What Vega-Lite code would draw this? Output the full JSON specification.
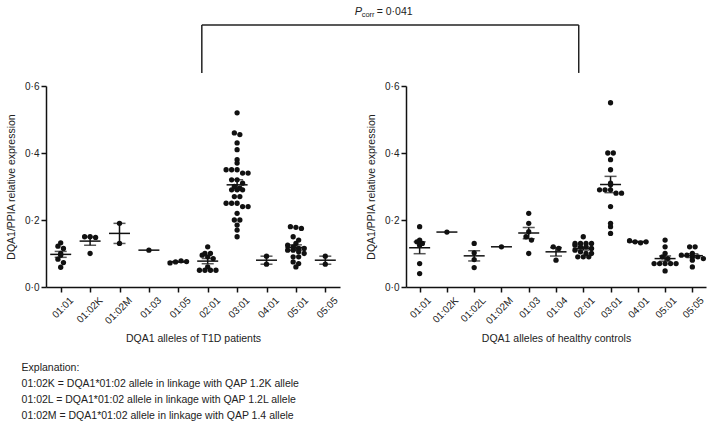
{
  "$schema": "https://vega.github.io/schema/vega-lite/v6.json",
  "background": "white",
  "padding": {"left": 6, "top": 5, "right": 0, "bottom": 0},
  "config": {
    "font": "Liberation Sans",
    "view": {"stroke": null},
    "axis": {
      "grid": false,
      "domainColor": "#111",
      "domainWidth": 1.5,
      "tickColor": "#111",
      "tickWidth": 1.5,
      "tickSize": 5,
      "labelFont": "Liberation Sans",
      "labelFontSize": 10,
      "labelColor": "#222",
      "titleFont": "Liberation Sans",
      "titleFontSize": 10.5,
      "titleFontWeight": "normal",
      "titleColor": "#222"
    }
  },
  "title": {
    "text": [
      "Explanation:",
      "01:02K = DQA1*01:02 allele in linkage with QAP 1.2K allele",
      "01:02L = DQA1*01:02 allele in linkage with QAP 1.2L allele",
      "01:02M = DQA1*01:02 allele in linkage with QAP 1.4 allele"
    ],
    "orient": "bottom",
    "anchor": "start",
    "font": "Liberation Sans",
    "fontSize": 10.5,
    "fontWeight": "normal",
    "color": "#222",
    "lineHeight": 16,
    "offset": 19,
    "dx": 15
  },
  "datasets": {
    "t1d": [
      {"allele": "01:01", "value": 0.132}, {"allele": "01:01", "value": 0.122}, {"allele": "01:01", "value": 0.115}, {"allele": "01:01", "value": 0.10},
      {"allele": "01:01", "value": 0.095}, {"allele": "01:01", "value": 0.083}, {"allele": "01:01", "value": 0.073}, {"allele": "01:01", "value": 0.059},
      {"allele": "01:02K", "value": 0.15}, {"allele": "01:02K", "value": 0.15}, {"allele": "01:02K", "value": 0.148}, {"allele": "01:02K", "value": 0.10},
      {"allele": "01:02M", "value": 0.19}, {"allele": "01:02M", "value": 0.13},
      {"allele": "01:03", "value": 0.11},
      {"allele": "01:05", "value": 0.072}, {"allele": "01:05", "value": 0.075}, {"allele": "01:05", "value": 0.078}, {"allele": "01:05", "value": 0.076},
      {"allele": "02:01", "value": 0.12}, {"allele": "02:01", "value": 0.10}, {"allele": "02:01", "value": 0.10}, {"allele": "02:01", "value": 0.095},
      {"allele": "02:01", "value": 0.09}, {"allele": "02:01", "value": 0.085}, {"allele": "02:01", "value": 0.06}, {"allele": "02:01", "value": 0.05},
      {"allele": "02:01", "value": 0.05}, {"allele": "02:01", "value": 0.05}, {"allele": "02:01", "value": 0.05},
      {"allele": "03:01", "value": 0.52}, {"allele": "03:01", "value": 0.46}, {"allele": "03:01", "value": 0.455}, {"allele": "03:01", "value": 0.43},
      {"allele": "03:01", "value": 0.41}, {"allele": "03:01", "value": 0.38}, {"allele": "03:01", "value": 0.37}, {"allele": "03:01", "value": 0.35},
      {"allele": "03:01", "value": 0.35}, {"allele": "03:01", "value": 0.35}, {"allele": "03:01", "value": 0.34}, {"allele": "03:01", "value": 0.34},
      {"allele": "03:01", "value": 0.32}, {"allele": "03:01", "value": 0.32}, {"allele": "03:01", "value": 0.31}, {"allele": "03:01", "value": 0.30},
      {"allele": "03:01", "value": 0.295}, {"allele": "03:01", "value": 0.29}, {"allele": "03:01", "value": 0.29}, {"allele": "03:01", "value": 0.29},
      {"allele": "03:01", "value": 0.27}, {"allele": "03:01", "value": 0.27}, {"allele": "03:01", "value": 0.25}, {"allele": "03:01", "value": 0.25},
      {"allele": "03:01", "value": 0.25}, {"allele": "03:01", "value": 0.24}, {"allele": "03:01", "value": 0.24}, {"allele": "03:01", "value": 0.22},
      {"allele": "03:01", "value": 0.20}, {"allele": "03:01", "value": 0.20}, {"allele": "03:01", "value": 0.185}, {"allele": "03:01", "value": 0.17},
      {"allele": "03:01", "value": 0.15},
      {"allele": "04:01", "value": 0.092}, {"allele": "04:01", "value": 0.068},
      {"allele": "05:01", "value": 0.18}, {"allele": "05:01", "value": 0.178}, {"allele": "05:01", "value": 0.175}, {"allele": "05:01", "value": 0.15},
      {"allele": "05:01", "value": 0.14}, {"allele": "05:01", "value": 0.13}, {"allele": "05:01", "value": 0.125}, {"allele": "05:01", "value": 0.12},
      {"allele": "05:01", "value": 0.115}, {"allele": "05:01", "value": 0.115}, {"allele": "05:01", "value": 0.11}, {"allele": "05:01", "value": 0.11},
      {"allele": "05:01", "value": 0.105}, {"allele": "05:01", "value": 0.10}, {"allele": "05:01", "value": 0.09}, {"allele": "05:01", "value": 0.09},
      {"allele": "05:01", "value": 0.075}, {"allele": "05:01", "value": 0.07}, {"allele": "05:01", "value": 0.06},
      {"allele": "05:05", "value": 0.092}, {"allele": "05:05", "value": 0.068}
    ],
    "hc": [
      {"allele": "01:01", "value": 0.18}, {"allele": "01:01", "value": 0.14}, {"allele": "01:01", "value": 0.135}, {"allele": "01:01", "value": 0.13},
      {"allele": "01:01", "value": 0.125}, {"allele": "01:01", "value": 0.07}, {"allele": "01:01", "value": 0.04},
      {"allele": "01:02K", "value": 0.164},
      {"allele": "01:02L", "value": 0.13}, {"allele": "01:02L", "value": 0.102}, {"allele": "01:02L", "value": 0.082}, {"allele": "01:02L", "value": 0.058},
      {"allele": "01:02M", "value": 0.12},
      {"allele": "01:03", "value": 0.22}, {"allele": "01:03", "value": 0.19}, {"allele": "01:03", "value": 0.165}, {"allele": "01:03", "value": 0.15},
      {"allele": "01:03", "value": 0.14}, {"allele": "01:03", "value": 0.10},
      {"allele": "01:04", "value": 0.12}, {"allele": "01:04", "value": 0.115}, {"allele": "01:04", "value": 0.08},
      {"allele": "02:01", "value": 0.15}, {"allele": "02:01", "value": 0.13}, {"allele": "02:01", "value": 0.13}, {"allele": "02:01", "value": 0.13},
      {"allele": "02:01", "value": 0.13}, {"allele": "02:01", "value": 0.125}, {"allele": "02:01", "value": 0.12}, {"allele": "02:01", "value": 0.12},
      {"allele": "02:01", "value": 0.115}, {"allele": "02:01", "value": 0.11}, {"allele": "02:01", "value": 0.105}, {"allele": "02:01", "value": 0.10},
      {"allele": "02:01", "value": 0.10}, {"allele": "02:01", "value": 0.09}, {"allele": "02:01", "value": 0.09}, {"allele": "02:01", "value": 0.09},
      {"allele": "03:01", "value": 0.55}, {"allele": "03:01", "value": 0.40}, {"allele": "03:01", "value": 0.40}, {"allele": "03:01", "value": 0.38},
      {"allele": "03:01", "value": 0.35}, {"allele": "03:01", "value": 0.31}, {"allele": "03:01", "value": 0.305}, {"allele": "03:01", "value": 0.29},
      {"allele": "03:01", "value": 0.29}, {"allele": "03:01", "value": 0.29}, {"allele": "03:01", "value": 0.28}, {"allele": "03:01", "value": 0.28},
      {"allele": "03:01", "value": 0.24}, {"allele": "03:01", "value": 0.19}, {"allele": "03:01", "value": 0.18}, {"allele": "03:01", "value": 0.16},
      {"allele": "04:01", "value": 0.138}, {"allele": "04:01", "value": 0.135}, {"allele": "04:01", "value": 0.132}, {"allele": "04:01", "value": 0.135},
      {"allele": "05:01", "value": 0.14}, {"allele": "05:01", "value": 0.12}, {"allele": "05:01", "value": 0.10}, {"allele": "05:01", "value": 0.09},
      {"allele": "05:01", "value": 0.085}, {"allele": "05:01", "value": 0.07}, {"allele": "05:01", "value": 0.07}, {"allele": "05:01", "value": 0.07},
      {"allele": "05:01", "value": 0.07}, {"allele": "05:01", "value": 0.07}, {"allele": "05:01", "value": 0.048},
      {"allele": "05:05", "value": 0.12}, {"allele": "05:05", "value": 0.12}, {"allele": "05:05", "value": 0.10}, {"allele": "05:05", "value": 0.095},
      {"allele": "05:05", "value": 0.095}, {"allele": "05:05", "value": 0.09}, {"allele": "05:05", "value": 0.09}, {"allele": "05:05", "value": 0.085},
      {"allele": "05:05", "value": 0.08}, {"allele": "05:05", "value": 0.06}
    ],
    "bracket": [
      {"x": 5.3, "x2": 5.3, "y": 0.639, "y2": 0.782},
      {"x": 5.3, "x2": 18.12, "y": 0.782, "y2": 0.782},
      {"x": 18.12, "x2": 18.12, "y": 0.639, "y2": 0.782}
    ],
    "pcorr": [
      {"x": 10.5, "y": 0.822, "p": "P", "sub": "corr", "rest": "= 0·041"}
    ]
  },
  "bounds": "flush",
  "spacing": 66,
  "hconcat": [
    {
      "width": 294,
      "height": 201,
      "resolve": {"scale": {"x": "independent"}},
      "layer": [
        {
          "data": {"name": "t1d"},
          "encoding": {
            "x": {
              "field": "allele", "type": "nominal",
              "scale": {"type": "point", "padding": 0.5, "domain": ["01:01","01:02K","01:02M","01:03","01:05","02:01","03:01","04:01","05:01","05:05"]},
              "axis": {"title": "DQA1 alleles of T1D patients", "labelAngle": -45, "labelOffset": 7, "labelPadding": 3, "titlePadding": 8}
            },
            "y": {
              "field": "value", "type": "quantitative",
              "scale": {"domain": [0, 0.6]},
              "axis": {"title": "DQA1/PPIA relative expression", "values": [0, 0.2, 0.4, 0.6], "labelExpr": "replace(format(datum.value, '.1f'), '.', '·')", "titlePadding": 8}
            }
          },
          "layer": [
            {
              "transform": [
                {"calculate": "floor(datum.value / 0.014)", "as": "vbin"},
                {"window": [{"op": "row_number", "as": "k"}, {"op": "count", "as": "n"}], "groupby": ["allele", "vbin"], "frame": [null, null]},
                {"calculate": "datum.k - (datum.n + 1) / 2", "as": "slot"}
              ],
              "mark": {"type": "circle", "size": 28, "color": "#111", "opacity": 1},
              "encoding": {
                "xOffset": {"field": "slot", "type": "quantitative", "scale": {"domain": [-1, 1], "range": [-5.5, 5.5]}}
              }
            },
            {
              "mark": {"type": "errorbar", "extent": "stderr", "ticks": {"size": 12, "thickness": 1.5, "color": "#111"}, "rule": {"strokeWidth": 1.5, "color": "#111"}},
              "encoding": {"y": {"field": "value", "type": "quantitative", "title": "DQA1/PPIA relative expression"}}
            },
            {
              "mark": {"type": "tick", "size": 21, "thickness": 1.5, "color": "#111"},
              "encoding": {"y": {"aggregate": "mean", "field": "value", "type": "quantitative", "title": "DQA1/PPIA relative expression"}}
            }
          ]
        },
        {
          "layer": [
            {
              "data": {"name": "bracket"},
              "mark": {"type": "rule", "clip": false, "color": "#222", "strokeWidth": 1.5},
              "encoding": {
                "x": {"field": "x", "type": "quantitative", "scale": {"domain": [0, 10], "zero": false, "nice": false}, "axis": null},
                "x2": {"field": "x2"},
                "y": {"field": "y", "type": "quantitative", "title": "DQA1/PPIA relative expression"},
                "y2": {"field": "y2"}
              }
            },
            {
              "data": {"name": "pcorr"},
              "mark": {"type": "text", "clip": false, "align": "left", "baseline": "middle", "fontStyle": "italic", "fontSize": 11, "color": "#222"},
              "encoding": {
                "x": {"field": "x", "type": "quantitative", "axis": null},
                "y": {"field": "y", "type": "quantitative", "title": "DQA1/PPIA relative expression"},
                "text": {"field": "p"}
              }
            },
            {
              "data": {"name": "pcorr"},
              "mark": {"type": "text", "clip": false, "align": "left", "baseline": "middle", "fontSize": 7.5, "dx": 7, "dy": 3, "color": "#222"},
              "encoding": {
                "x": {"field": "x", "type": "quantitative", "axis": null},
                "y": {"field": "y", "type": "quantitative", "title": "DQA1/PPIA relative expression"},
                "text": {"field": "sub"}
              }
            },
            {
              "data": {"name": "pcorr"},
              "mark": {"type": "text", "clip": false, "align": "left", "baseline": "middle", "fontSize": 10.5, "dx": 22, "color": "#222"},
              "encoding": {
                "x": {"field": "x", "type": "quantitative", "axis": null},
                "y": {"field": "y", "type": "quantitative", "title": "DQA1/PPIA relative expression"},
                "text": {"field": "rest"}
              }
            }
          ]
        }
      ]
    },
    {
      "width": 300,
      "height": 201,
      "data": {"name": "hc"},
      "encoding": {
        "x": {
          "field": "allele", "type": "nominal",
          "scale": {"type": "point", "padding": 0.5, "domain": ["01:01","01:02K","01:02L","01:02M","01:03","01:04","02:01","03:01","04:01","05:01","05:05"]},
          "axis": {"title": "DQA1 alleles of healthy controls", "labelAngle": -45, "labelOffset": 6, "labelPadding": 3, "titlePadding": 8}
        },
        "y": {
          "field": "value", "type": "quantitative",
          "scale": {"domain": [0, 0.6]},
          "axis": {"title": "DQA1/PPIA relative expression", "values": [0, 0.2, 0.4, 0.6], "labelExpr": "replace(format(datum.value, '.1f'), '.', '·')", "titlePadding": 8}
        }
      },
      "layer": [
        {
          "transform": [
            {"calculate": "floor(datum.value / 0.014)", "as": "vbin"},
            {"window": [{"op": "row_number", "as": "k"}, {"op": "count", "as": "n"}], "groupby": ["allele", "vbin"], "frame": [null, null]},
            {"calculate": "datum.k - (datum.n + 1) / 2", "as": "slot"}
          ],
          "mark": {"type": "circle", "size": 28, "color": "#111", "opacity": 1},
          "encoding": {
            "xOffset": {"field": "slot", "type": "quantitative", "scale": {"domain": [-1, 1], "range": [-5.5, 5.5]}}
          }
        },
        {
          "mark": {"type": "errorbar", "extent": "stderr", "ticks": {"size": 12, "thickness": 1.5, "color": "#111"}, "rule": {"strokeWidth": 1.5, "color": "#111"}},
          "encoding": {"y": {"field": "value", "type": "quantitative", "title": "DQA1/PPIA relative expression"}}
        },
        {
          "mark": {"type": "tick", "size": 21, "thickness": 1.5, "color": "#111"},
          "encoding": {"y": {"aggregate": "mean", "field": "value", "type": "quantitative", "title": "DQA1/PPIA relative expression"}}
        }
      ]
    }
  ]
}
